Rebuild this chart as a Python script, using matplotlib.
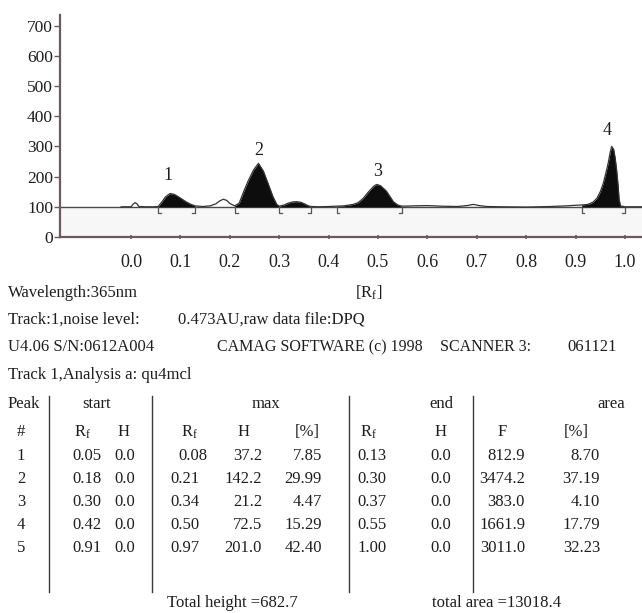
import numpy as np
import matplotlib
matplotlib.use("Agg")
import matplotlib.pyplot as plt

plt.rcParams['font.family'] = ['Liberation Serif', 'DejaVu Serif']
plt.rcParams['mathtext.fontset'] = 'custom'
plt.rcParams['mathtext.rm'] = 'Liberation Serif'
plt.rcParams['mathtext.it'] = 'Liberation Serif:italic'

# densitogram trace (Rf, signal)
rf = [-0.02, 0.0, 0.004, 0.008, 0.012, 0.016, 0.03, 0.045, 0.055, 0.062,
      0.07, 0.079, 0.088, 0.099, 0.11, 0.12, 0.13, 0.145, 0.16, 0.172,
      0.18, 0.187, 0.194, 0.2, 0.21, 0.219, 0.228, 0.237, 0.248, 0.258,
      0.268, 0.278, 0.287, 0.295, 0.30, 0.31, 0.318, 0.327, 0.335, 0.344,
      0.352, 0.358, 0.364, 0.38, 0.40, 0.416, 0.43, 0.45, 0.46, 0.47,
      0.48, 0.49, 0.497, 0.505, 0.517, 0.525, 0.531, 0.54, 0.548, 0.57,
      0.6, 0.63, 0.66, 0.68, 0.693, 0.705, 0.72, 0.75, 0.8, 0.85,
      0.88, 0.9, 0.912, 0.925, 0.935, 0.943, 0.95, 0.956, 0.961, 0.966,
      0.970, 0.973, 0.977, 0.980, 0.983, 0.986, 0.988, 0.991, 1.0, 1.035]
signal = [100, 100, 108, 114, 110, 101, 100, 100, 101, 115,
          133, 144, 141, 130, 118, 109, 103, 101, 103, 110,
          120, 125, 121, 111, 103, 112, 150, 185, 222, 244,
          218, 175, 135, 108, 102, 106, 112, 116, 117, 115,
          109, 104, 101, 100, 101, 102, 103, 108, 114, 128,
          148, 166, 174, 170, 152, 132, 117, 106, 102, 103,
          104, 102, 101, 104, 108, 104, 101, 100, 99, 101,
          103, 105, 106, 108, 115, 128, 150, 178, 210, 245,
          280, 300, 290, 262, 222, 170, 125, 103, 100, 100]

baseline = 100
# integration limits (start/end markers)
peak_start = [0.055, 0.21, 0.30, 0.416, 0.912]
peak_end = [0.13, 0.30, 0.364, 0.548, 1.0]
marker_pos = [0.055, 0.13, 0.21, 0.30, 0.364, 0.416, 0.548, 0.912, 1.0]
label_text = ["1", "2", "3", "4"]
label_x = [0.0755, 0.258, 0.5, 0.963]
label_y = [202, 286, 216, 351]

# table
peak_no = [1, 2, 3, 4, 5]
start_rf = ["0.05", "0.18", "0.30", "0.42", "0.91"]
start_h = ["0.0", "0.0", "0.0", "0.0", "0.0"]
max_rf = ["0.08", "0.21", "0.34", "0.50", "0.97"]
max_h = ["37.2", "142.2", "21.2", "72.5", "201.0"]
max_pct = ["7.85", "29.99", "4.47", "15.29", "42.40"]
end_rf = ["0.13", "0.30", "0.37", "0.55", "1.00"]
end_h = ["0.0", "0.0", "0.0", "0.0", "0.0"]
area_f = ["812.9", "3474.2", "383.0", "1661.9", "3011.0"]
area_pct = ["8.70", "37.19", "4.10", "17.79", "32.23"]

W, H = 642, 613
fig = plt.figure(figsize=(W / 100, H / 100), dpi=100)
ax = fig.add_axes([60 / W, 1 - 237 / H, 1 - 60 / W, (237 - 15) / H])

rf = np.array(rf)
signal = np.array(signal)
axcol = '#6b5b5e'
ink = '#1e1e1e'

ax.axhspan(0, baseline, color='#f7f7f7', zorder=0)
ax.axhline(baseline, color='#4a4a4a', lw=1.0, zorder=2)
for a, b in zip(peak_start, peak_end):
    m = (rf >= a) & (rf <= b)
    ax.fill_between(rf[m], baseline, signal[m], color='#0d0d0d', lw=0, zorder=3)
ax.plot(rf, signal, color='#333333', lw=0.9, zorder=4)

for p in marker_pos:
    d = 0.006 if p in peak_start else -0.006
    ax.plot([p, p, p + d], [baseline, 78, 78], color='#555555', lw=0.9, zorder=3)

for t, x, y in zip(label_text, label_x, label_y):
    ax.text(x, y, t, ha='center', va='center', fontsize=13, color=ink)

ax.set_xlim(-0.1437, 1.0344)
ax.set_ylim(0, 735)
ax.set_yticks(range(0, 701, 100))
ax.set_xticks(np.arange(0, 1.01, 0.1))
ax.set_xticklabels(["%.1f" % v for v in np.arange(0, 1.01, 0.1)])
ax.spines['top'].set_visible(False)
ax.spines['right'].set_visible(False)
for s in ['left', 'bottom']:
    ax.spines[s].set_color(axcol)
    ax.spines[s].set_linewidth(1.6)
ax.tick_params(axis='y', direction='out', length=4, width=1, color=axcol,
               labelsize=12.5, pad=1, labelcolor=ink)
ax.tick_params(axis='x', direction='inout', length=3, width=1.2, color=axcol,
               labelsize=13, pad=11, labelcolor=ink)
ax.set_facecolor('white')


def txt(x, y, s, ha='left', size=12):
    fig.text(x / W, 1 - y / H, s, ha=ha, va='center', fontsize=size, color=ink)


RF = r'R$_\mathrm{f}$'
txt(8, 293, "Wavelength:365nm")
txt(355, 293, r'[R$_\mathrm{f}$]')
txt(8, 320, "Track:1,noise level:")
txt(178, 320, "0.473AU,raw data file:DPQ")
txt(8, 347, "U4.06 S/N:0612A004")
txt(217, 347, "CAMAG SOFTWARE (c) 1998", size=11.5)
txt(440, 347, "SCANNER 3:", size=11.5)
txt(567, 347, "061121")
txt(8, 375, "Track 1,Analysis a: qu4mcl")

txt(8, 404, "Peak")
txt(97, 404, "start", ha='center')
txt(266, 404, "max", ha='center')
txt(441, 404, "end", ha='center')
txt(625, 404, "area", ha='right')

hy = 432
txt(21, hy, "#", ha='center')
txt(74, hy, RF)
txt(124, hy, "H", ha='center')
txt(181, hy, RF)
txt(244, hy, "H", ha='center')
txt(307, hy, "[%]", ha='center')
txt(360, hy, RF)
txt(441, hy, "H", ha='center')
txt(502, hy, "F", ha='center')
txt(576, hy, "[%]", ha='center')

for i in range(len(peak_no)):
    y = 456 + i * 23
    txt(21, y, str(peak_no[i]), ha='center')
    txt(72, y, start_rf[i])
    txt(135, y, start_h[i], ha='right')
    txt(178 if i == 0 else 170, y, max_rf[i])
    txt(262, y, max_h[i], ha='right')
    txt(322, y, max_pct[i], ha='right')
    txt(357, y, end_rf[i])
    txt(451, y, end_h[i], ha='right')
    txt(525, y, area_f[i], ha='right')
    txt(600, y, area_pct[i], ha='right')

for sx in [49, 152, 349, 473]:
    fig.add_artist(plt.Line2D([sx / W, sx / W], [1 - 396 / H, 1 - 592 / H],
                              color='#3a3a3a', lw=1.0))

txt(232, 603, "Total height =682.7", ha='center')
txt(432, 603, "total area =13018.4")

fig.savefig("out.png", dpi=100)
